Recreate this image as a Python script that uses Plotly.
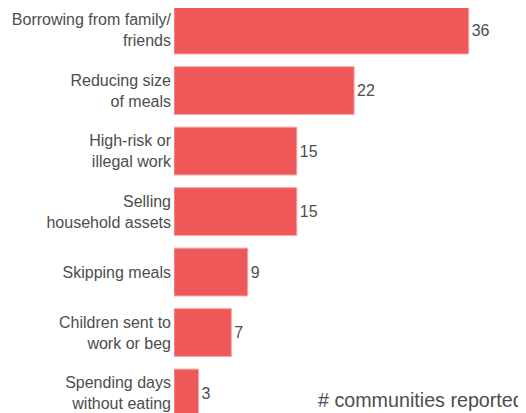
import plotly.graph_objects as go

categories = [
    "Borrowing from family/<br>friends",
    "Reducing size<br>of meals",
    "High-risk or<br>illegal work",
    "Selling<br>household assets",
    "Skipping meals",
    "Children sent to<br>work or beg",
    "Spending days<br>without eating",
]
values = [36, 22, 15, 15, 9, 7, 3]
axis_note = "# communities reported"

TEXT = "#4d4d4d"
FONT = "Liberation Sans, Arial, sans-serif"

fig = go.Figure(
    go.Bar(
        x=values,
        y=categories,
        orientation="h",
        width=0.79,
        marker=dict(color="#ee5859", line=dict(color="#f7a3a3", width=1)),
        text=[str(v) for v in values],
        textposition="outside",
        textfont=dict(size=16, color=TEXT, family=FONT),
        cliponaxis=False,
    )
)

fig.update_layout(
    width=518,
    height=405,
    margin=dict(l=166, r=0, t=0, b=0),
    plot_bgcolor="white",
    paper_bgcolor="white",
    showlegend=False,
    font=dict(family=FONT, size=16, color=TEXT),
    xaxis=dict(visible=False, range=[0, 43]),
    yaxis=dict(
        range=[6.33, -0.364],
        automargin=False,
        showgrid=False,
        zeroline=False,
        showline=False,
        ticks="",
        ticklabelstandoff=2,
        tickfont=dict(size=16, color=TEXT, family=FONT),
    ),
    annotations=[
        dict(
            text=axis_note,
            xref="paper",
            yref="paper",
            x=1,
            y=0,
            xanchor="right",
            yanchor="bottom",
            yshift=0,
            showarrow=False,
            font=dict(size=19.7, color=TEXT, family=FONT),
        )
    ],
)

fig.write_html("out.html")
